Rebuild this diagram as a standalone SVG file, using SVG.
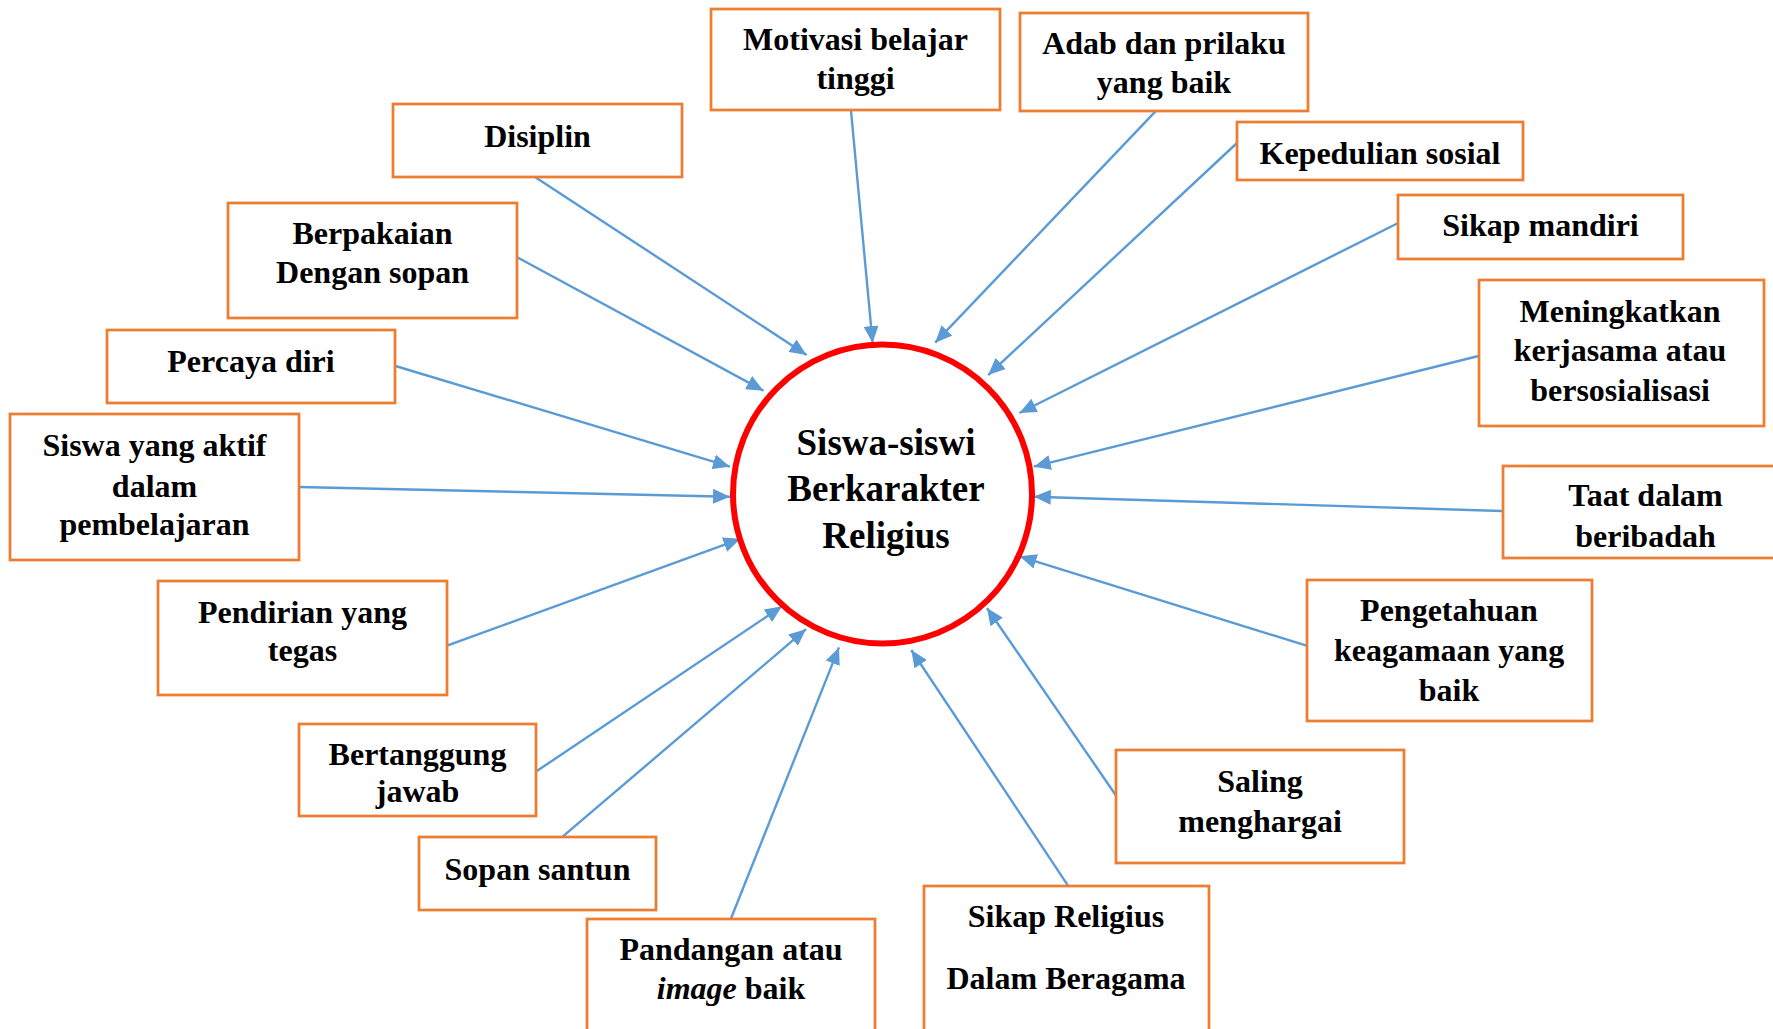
<svg xmlns="http://www.w3.org/2000/svg" width="1773" height="1029" viewBox="0 0 1773 1029">
  <style>
    .box { fill: #FFFFFF; stroke: #ED7D31; stroke-width: 2.75; }
    .lbl { font-family: "Liberation Serif", "Times New Roman", serif; font-weight: bold; font-size: 32px; fill: #000000; text-anchor: middle; }
    .hub { font-family: "Liberation Serif", "Times New Roman", serif; font-weight: bold; font-size: 37px; fill: #000000; text-anchor: middle; }
    .link { stroke: #5B9BD5; stroke-width: 2.4; fill: none; marker-end: url(#tip); }
  </style>
  <defs>
    <marker id="tip" markerUnits="userSpaceOnUse" markerWidth="17" markerHeight="15" refX="17" refY="7.5" orient="auto">
      <path d="M0,0 L17,7.5 L0,15 Z" fill="#5B9BD5"/>
    </marker>
  </defs>
  <rect width="1773" height="1029" fill="#FFFFFF"/>

  <!-- connectors: every trait points into the central circle -->
  <g id="connectors">
    <line class="link" x1="851" y1="110.7" x2="872.6" y2="343"/>
    <line class="link" x1="535" y1="177" x2="806.6" y2="355"/>
    <line class="link" x1="516.7" y1="257" x2="763.5" y2="390.7"/>
    <line class="link" x1="395.5" y1="366" x2="730" y2="466.7"/>
    <line class="link" x1="299" y1="487" x2="730" y2="496.7"/>
    <line class="link" x1="447" y1="645.7" x2="740.5" y2="538.8"/>
    <line class="link" x1="536" y1="771.6" x2="782" y2="606.3"/>
    <line class="link" x1="562.6" y1="836.7" x2="806" y2="629.2"/>
    <line class="link" x1="730.8" y1="919" x2="839" y2="647.4"/>
    <line class="link" x1="1068" y1="885.6" x2="911.3" y2="650"/>
    <line class="link" x1="1115.8" y1="795.2" x2="987" y2="608"/>
    <line class="link" x1="1306.5" y1="645.7" x2="1019.5" y2="556.3"/>
    <line class="link" x1="1502" y1="511" x2="1033.8" y2="496.7"/>
    <line class="link" x1="1478.5" y1="356" x2="1033.8" y2="466.7"/>
    <line class="link" x1="1398.2" y1="223" x2="1019.5" y2="413"/>
    <line class="link" x1="1237" y1="143" x2="988.2" y2="375"/>
    <line class="link" x1="1156.2" y1="110.7" x2="935.2" y2="342.7"/>
  </g>

  <!-- central node -->
  <g id="center">
    <circle cx="882.5" cy="494" r="149.5" fill="#FFFFFF" stroke="#FF0000" stroke-width="6"/>
    <text class="hub" x="886" y="455">Siswa-siswi</text>
    <text class="hub" x="886" y="500.5">Berkarakter</text>
    <text class="hub" x="886" y="547.5">Religius</text>
  </g>

  <g id="motivasi">
    <rect class="box" x="711" y="9" width="289" height="101"/>
    <text class="lbl" x="855.5" y="50.3">Motivasi belajar</text>
    <text class="lbl" x="855.5" y="89">tinggi</text>
  </g>
  <g id="adab">
    <rect class="box" x="1020" y="13" width="288" height="98"/>
    <text class="lbl" x="1164" y="54.3">Adab dan prilaku</text>
    <text class="lbl" x="1164" y="92.7">yang baik</text>
  </g>
  <g id="kepedulian">
    <rect class="box" x="1237" y="122" width="286" height="58"/>
    <text class="lbl" x="1380" y="164">Kepedulian sosial</text>
  </g>
  <g id="mandiri">
    <rect class="box" x="1398" y="195" width="285" height="64"/>
    <text class="lbl" x="1540.5" y="236">Sikap mandiri</text>
  </g>
  <g id="kerjasama">
    <rect class="box" x="1479" y="280" width="285" height="146"/>
    <text class="lbl" x="1620" y="321.7">Meningkatkan</text>
    <text class="lbl" x="1620" y="361">kerjasama atau</text>
    <text class="lbl" x="1620" y="401">bersosialisasi</text>
  </g>
  <g id="taat">
    <rect class="box" x="1503" y="466" width="290" height="92"/>
    <text class="lbl" x="1645.5" y="506">Taat dalam</text>
    <text class="lbl" x="1645.5" y="547">beribadah</text>
  </g>
  <g id="pengetahuan">
    <rect class="box" x="1307" y="580" width="285" height="141"/>
    <text class="lbl" x="1449" y="621.4">Pengetahuan</text>
    <text class="lbl" x="1449" y="661.3">keagamaan yang</text>
    <text class="lbl" x="1449" y="700.7">baik</text>
  </g>
  <g id="menghargai">
    <rect class="box" x="1116" y="750" width="288" height="113"/>
    <text class="lbl" x="1260" y="791.8">Saling</text>
    <text class="lbl" x="1260" y="831.6">menghargai</text>
  </g>
  <g id="religius">
    <rect class="box" x="924" y="886" width="285" height="160"/>
    <text class="lbl" x="1066" y="926.7">Sikap Religius</text>
    <text class="lbl" x="1066" y="989.3">Dalam Beragama</text>
  </g>
  <g id="pandangan">
    <rect class="box" x="587" y="919" width="288" height="130"/>
    <text class="lbl" x="731" y="960.4">Pandangan atau</text>
    <text class="lbl" x="731" y="999.3"><tspan font-style="italic">image</tspan> baik</text>
  </g>
  <g id="sopan">
    <rect class="box" x="419" y="837" width="237" height="73"/>
    <text class="lbl" x="537.5" y="879.5">Sopan santun</text>
  </g>
  <g id="tanggungjawab">
    <rect class="box" x="299" y="724" width="237" height="92"/>
    <text class="lbl" x="417.5" y="764.8">Bertanggung</text>
    <text class="lbl" x="417.5" y="802">jawab</text>
  </g>
  <g id="pendirian">
    <rect class="box" x="158" y="581" width="289" height="114"/>
    <text class="lbl" x="302.5" y="623">Pendirian yang</text>
    <text class="lbl" x="302.5" y="661">tegas</text>
  </g>
  <g id="aktif">
    <rect class="box" x="10" y="414" width="289" height="146"/>
    <text class="lbl" x="154.5" y="456">Siswa yang aktif</text>
    <text class="lbl" x="154.5" y="496.7">dalam</text>
    <text class="lbl" x="154.5" y="534.7">pembelajaran</text>
  </g>
  <g id="percaya">
    <rect class="box" x="107" y="330" width="288" height="73"/>
    <text class="lbl" x="251" y="372">Percaya diri</text>
  </g>
  <g id="berpakaian">
    <rect class="box" x="228" y="203" width="289" height="115"/>
    <text class="lbl" x="372.5" y="244">Berpakaian</text>
    <text class="lbl" x="372.5" y="282.7">Dengan sopan</text>
  </g>
  <g id="disiplin">
    <rect class="box" x="393" y="104" width="289" height="73"/>
    <text class="lbl" x="537.5" y="146.7">Disiplin</text>
  </g>
</svg>
